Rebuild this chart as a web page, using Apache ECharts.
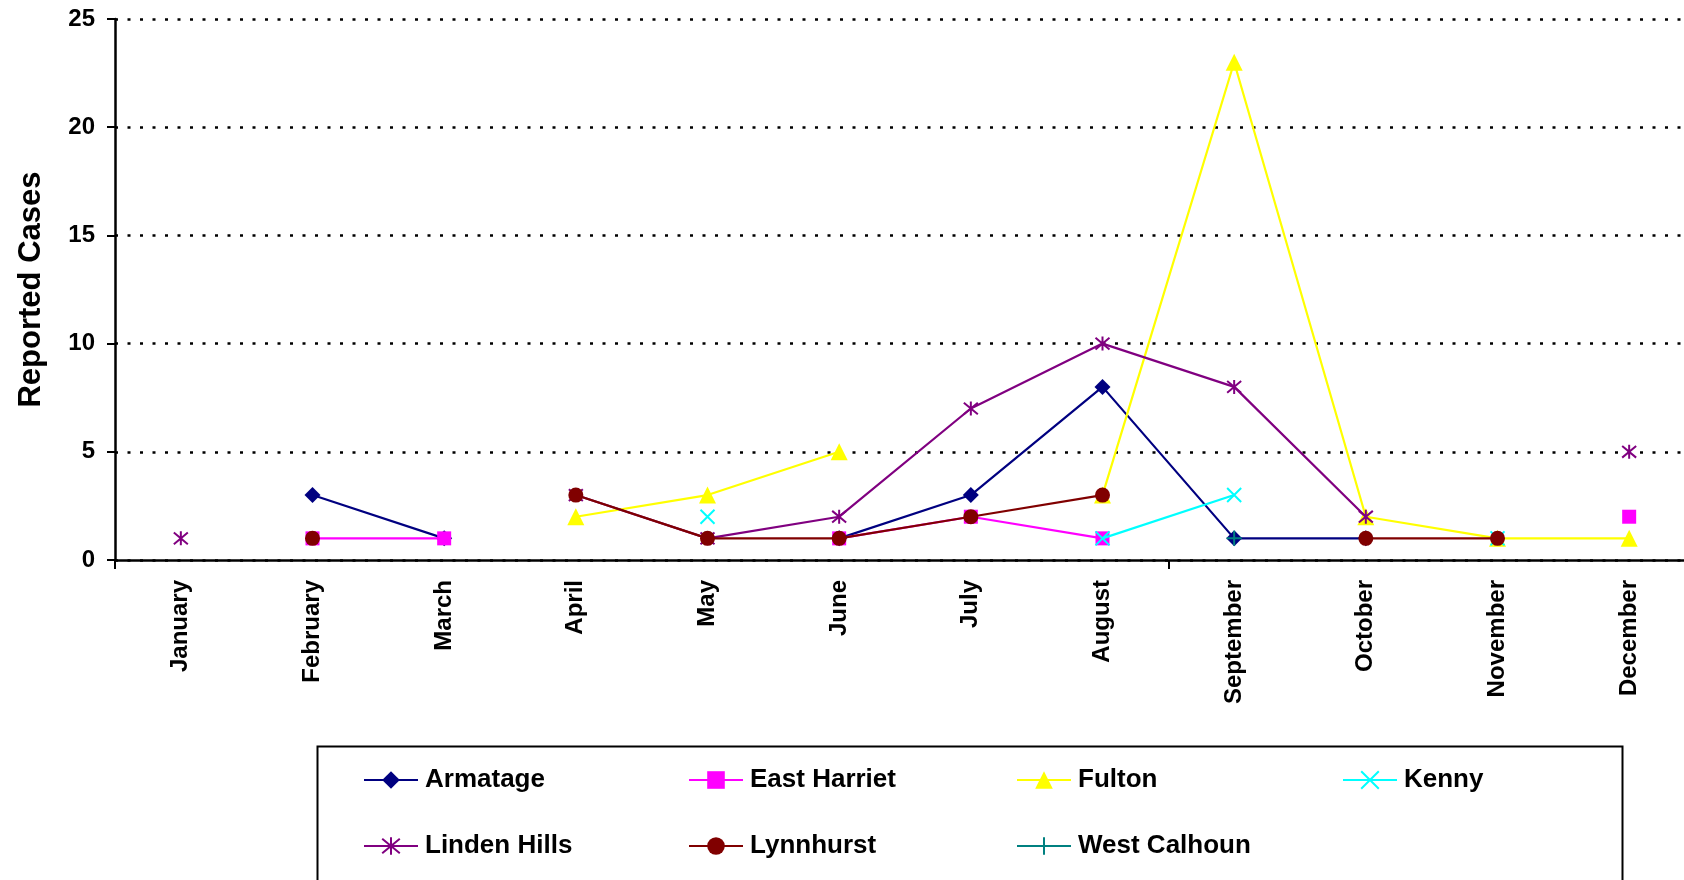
<!DOCTYPE html>
<html>
<head>
<meta charset="utf-8">
<script src="https://cdn.jsdelivr.net/npm/echarts@6/dist/echarts.min.js"></script>
<style>
html,body{margin:0;padding:0;background:#fff;overflow:hidden;width:1684px;height:880px;}
#chart{width:1700px;height:880px;}
</style>
</head>
<body>
<div id="chart"></div>
<script>
// ---- data ----
const months = ['January','February','March','April','May','June','July','August','September','October','November','December'];
const yTicks = [0, 5, 10, 15, 20, 25];
const seriesNames = ['Armatage','East Harriet','Fulton','Kenny','Linden Hills','Lynnhurst','West Calhoun'];
const armatage    = [null, 3, 1, null, null, 1, 3, 8, 1, 1, null, null];
const eastHarriet = [null, 1, 1, null, null, 1, 2, 1, null, null, null, 2];
const fulton      = [null, null, null, 2, 3, 5, null, 3, 23, 2, 1, 1];
const kenny       = [null, null, null, null, 2, null, null, 1, 3, null, 1, null];
const lindenHills = [1, null, null, 3, 1, 2, 7, 10, 8, 2, null, 5];
const lynnhurst   = [null, 1, null, 3, 1, 1, 2, 3, null, 1, 1, null];
const westCalhoun = [null, null, null, null, null, null, null, null, 1, null, null, null];
const seriesValues = [armatage, eastHarriet, fulton, kenny, lindenHills, lynnhurst, westCalhoun];

// ---- styles ----
const colors = ['#000080','#FF00FF','#FFFF00','#00FFFF','#800080','#800000','#008080'];
const symbols = [
  'diamond', 'rect', 'triangle',
  'path://M0 0L10 10M10 0L0 10',
  'path://M0 0L10 10M10 0L0 10M5 -1L5 11',
  'circle',
  'path://M5 0L5 10M0 5L10 5'
];
const symbolSizes = [16, 14, 17, 14, 14, 15, 15];
const strokeSymbol = [false, false, false, true, true, false, true];
const legendPos = [[363,767],[688,767],[1016,767],[1342,767],[363,833],[688,833],[1016,833]];

const font = '"Liberation Sans", Arial, sans-serif';

const series = seriesNames.map((name, i) => ({
  name: name,
  type: 'line',
  data: seriesValues[i],
  connectNulls: false,
  symbol: symbols[i],
  symbolSize: symbolSizes[i],
  showAllSymbol: true,
  lineStyle: { color: colors[i], width: 2.2 },
  itemStyle: strokeSymbol[i]
    ? { color: colors[i], borderColor: colors[i], borderWidth: 2 }
    : { color: colors[i], borderWidth: 0 },
  emphasis: { disabled: true },
  z: 2 + i
}));

const legends = seriesNames.map((name, i) => ({
  data: [name],
  left: legendPos[i][0],
  top: legendPos[i][1],
  padding: 0,
  itemWidth: 54,
  itemHeight: 22,
  itemGap: 0,
  selectedMode: false,
  textStyle: { fontFamily: font, fontWeight: 'bold', fontSize: 26, color: '#000', lineHeight: 26, padding: [0,0,0,2] }
}));

const chart = echarts.init(document.getElementById('chart'), null, { renderer: 'canvas', width: 1700, height: 880 });
chart.setOption({
  animation: false,
  backgroundColor: '#fff',
  grid: { left: 115, top: 19, width: 1580, height: 541, containLabel: false },
  legend: legends,
  xAxis: {
    type: 'category',
    data: months,
    boundaryGap: true,
    axisLine: { lineStyle: { color: '#000', width: 2.5 } },
    axisTick: { show: true, interval: (idx) => idx % 8 === 0, length: 9, lineStyle: { color: '#000', width: 2 } },
    axisLabel: {
      rotate: 90, interval: 0, margin: 20,
      fontFamily: font, fontWeight: 'bold', fontSize: 24, color: '#000'
    },
    splitLine: { show: false },
    z: 20
  },
  yAxis: {
    type: 'value',
    min: 0, max: 25, interval: 5,
    name: 'Reported Cases',
    nameLocation: 'middle',
    nameGap: 68,
    nameTextStyle: { fontFamily: font, fontWeight: 'bold', fontSize: 31, color: '#000' },
    axisLine: { show: true, lineStyle: { color: '#000', width: 2.5 } },
    axisTick: { show: true, length: 8, lineStyle: { color: '#000', width: 2 } },
    axisLabel: {
      margin: 20, fontFamily: font, fontWeight: 'bold', fontSize: 24, color: '#000',
      formatter: v => (yTicks.indexOf(v) >= 0 ? String(v) : '')
    },
    splitLine: { show: true, lineStyle: { color: '#000', width: 2.5, type: [3, 9.5] } }
  },
  graphic: [{
    type: 'rect',
    left: 315, top: 744,
    shape: { width: 1305, height: 200 },
    style: { fill: 'none', stroke: '#000', lineWidth: 2 },
    silent: true, z: 0
  }],
  series: series
});
</script>
</body>
</html>
